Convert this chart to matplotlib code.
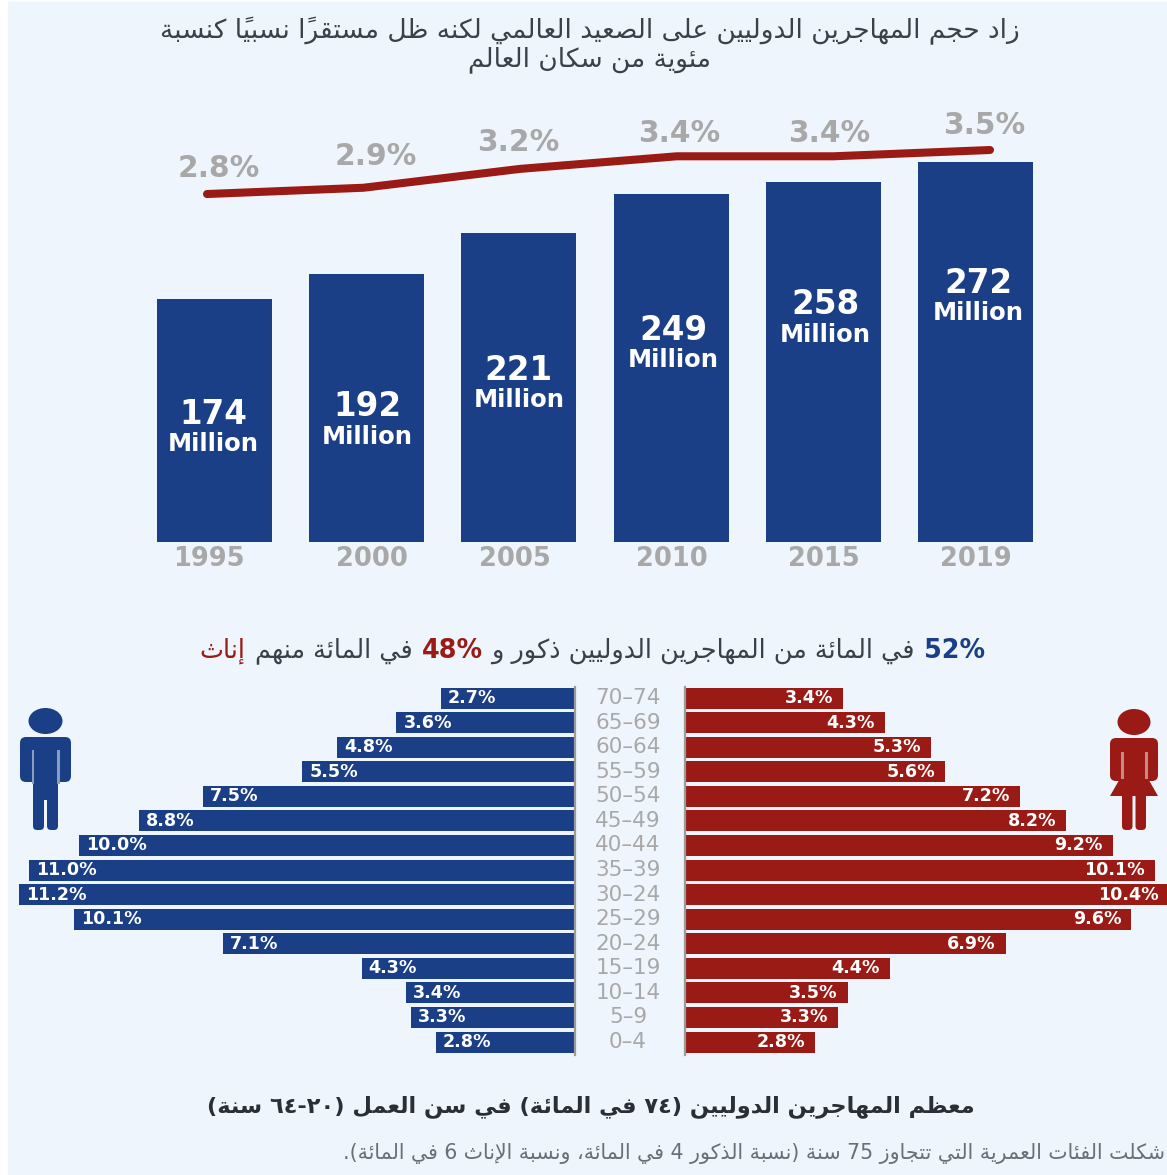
import re
import matplotlib
matplotlib.use("Agg")
from matplotlib import pyplot as plt
from matplotlib.patches import Ellipse, FancyBboxPatch, Polygon, Rectangle
from matplotlib.transforms import ScaledTranslation

W, H = 1167, 1175
BG = "#EEF5FD"
BLUE = "#1B3F87"
RED = "#9A1B15"
GRAY = "#A8A8A8"
DARK = "#3C404A"

years = ["1995", "2000", "2005", "2010", "2015", "2019"]
migrants = [174, 192, 221, 249, 258, 272]
shares = [2.8, 2.9, 3.2, 3.4, 3.4, 3.5]

ages = ["0–4", "5–9", "10–14", "15–19", "20–24", "25–29", "30–24", "35–39",
        "40–44", "45–49", "50–54", "55–59", "60–64", "65–69", "70–74"]
male = [2.8, 3.3, 3.4, 4.3, 7.1, 10.1, 11.2, 11.0, 10.0, 8.8, 7.5, 5.5, 4.8, 3.6, 2.7]
female = [2.8, 3.3, 3.5, 4.4, 6.9, 9.6, 10.4, 10.1, 9.2, 8.2, 7.2, 5.6, 5.3, 4.3, 3.4]

title_1 = "زاد حجم المهاجرين الدوليين على الصعيد العالمي لكنه ظل مستقراً نسبياً كنسبة"
title_2 = "مئوية من سكان العالم"
heading = "معظم المهاجرين الدوليين (٧٤ في المائة) في سن العمل (٢٠-٦٤ سنة)"
note = "شكلت الفئات العمرية التي تتجاوز 75 سنة (نسبة الذكور 4 في المائة، ونسبة الإناث 6 في المائة)."

# matplotlib has no arabic shaping, so map letters to presentation forms by hand
FORMS = {}
code = 0xFE80
for letters, n in [("ء", 1), ("آأؤإ", 2), ("ئ", 4), ("ا", 2), ("ب", 4), ("ة", 2),
                   ("تثجحخ", 4), ("دذرز", 2), ("سشصضطظعغفقكلمنه", 4), ("وى", 2), ("ي", 4)]:
    for c in letters:
        FORMS[c] = [chr(code + k) for k in range(n)]
        code += n
LAM_ALEF = {"آ": (0xFEF5, 0xFEF6), "أ": (0xFEF7, 0xFEF8), "إ": (0xFEF9, 0xFEFA), "ا": (0xFEFB, 0xFEFC)}
MARKS = "\u064B"


def shape(text):
    chars = [c for c in text]
    out = []
    i = 0
    prev_joins = False
    while i < len(chars):
        c = chars[i]
        if c not in FORMS:
            # a mark has to be drawn after its letter, and the string gets reversed later
            if c in MARKS and out:
                out.insert(len(out) - 1, c)
            else:
                out.append(c)
                prev_joins = False
            i += 1
            continue
        if c == "ل" and i + 1 < len(chars) and chars[i + 1] in LAM_ALEF:
            out.append(chr(LAM_ALEF[chars[i + 1]][1 if prev_joins else 0]))
            prev_joins = False
            i += 2
            continue
        j = i + 1
        while j < len(chars) and chars[j] in MARKS:
            j += 1
        next_joins = j < len(chars) and chars[j] in FORMS
        forms = FORMS[c]
        if len(forms) == 1:
            out.append(forms[0])
            prev_joins = False
        elif len(forms) == 2:
            out.append(forms[1] if prev_joins else forms[0])
            prev_joins = False
        else:
            if prev_joins and next_joins:
                out.append(forms[3])
            elif prev_joins:
                out.append(forms[1])
            elif next_joins:
                out.append(forms[2])
            else:
                out.append(forms[0])
            prev_joins = next_joins
        i += 1
    return "".join(out)


def ar(text):
    parts = re.findall(r"[0-9٠-٩]+%?|.", shape(text))
    swap = {"(": ")", ")": "("}
    return "".join(swap.get(p, p) for p in parts[::-1])


def px_axes(x0, y0, x1, y1):
    a = fig.add_axes([x0 / W, 1 - y1 / H, (x1 - x0) / W, (y1 - y0) / H])
    a.patch.set_visible(False)
    return a


fig = plt.figure(figsize=(W / 100, H / 100), dpi=100, facecolor="white")
fig.add_artist(Rectangle((8 / W, 0), 1, 1 - 2 / H, transform=fig.transFigure, color=BG, zorder=-10))

# overlay in image pixels for the texts and the two icons
over = px_axes(0, 0, W, H)
over.set_xlim(0, W)
over.set_ylim(H, 0)
over.axis("off")

over.text(590, 31, ar(title_1), ha="center", va="center", fontsize=19, color=DARK)
over.text(590, 60, ar(title_2), ha="center", va="center", fontsize=19, color=DARK)
over.text(591, 1107, ar(heading), ha="center", va="center", fontsize=16.2, color="#2B2E36", fontweight="bold")
over.text(1165, 1154, ar(note), ha="right", va="center", fontsize=14.8, color="#6A6E78")

# subtitle has coloured pieces, set them one after another from the right
pieces = [("52%", BLUE, "bold"), ("في المائة من المهاجرين الدوليين ذكور و", DARK, "normal"),
          ("48%", RED, "bold"), ("في المائة منهم", DARK, "normal"), ("إناث", RED, "normal")]
renderer = fig.canvas.get_renderer()
x_right = 985
for txt, col, wt in pieces:
    t = over.text(x_right, 651, ar(txt), ha="right", va="center", fontsize=18.4, color=col, fontweight=wt)
    x_right -= t.get_window_extent(renderer).width + 9

# top bars
px_per_m = 1.396
bar_ax = px_axes(157, 120, 1033, 542)
bar_ax.bar(range(len(years)), migrants, width=115 / 152.2, color=BLUE)
bar_ax.set_xlim(-57.5 / 152.2, 5 + 57.5 / 152.2)
bar_ax.set_ylim(0, 422 / px_per_m)
bar_ax.set_xticks(range(len(years)))
bar_ax.set_xticklabels(years, fontsize=18.5, color=GRAY, fontweight="bold")
bar_ax.tick_params(axis="x", length=0, pad=3)
bar_ax.set_yticks([])
for s in bar_ax.spines.values():
    s.set_visible(False)

# the year labels are not quite centred under their bars in the original
year_dx = [-6, 5, -4, 1, 1, 0]
for lab, dx in zip(bar_ax.get_xticklabels(), year_dx):
    lab.set_transform(lab.get_transform() + ScaledTranslation(dx / 100, 0, fig.dpi_scale_trans))

label_drop = [115, 133, 137, 136, 123, 121]
label_dx = [-1, 1, 0, 2, 2, 3]
for i, v in enumerate(migrants):
    bar_ax.annotate(str(v), (i, v), xytext=(label_dx[i], -label_drop[i]), textcoords="offset pixels",
                    ha="center", va="center", color="white", fontsize=23.5, fontweight="bold")
    bar_ax.annotate("Million", (i, v), xytext=(label_dx[i], -label_drop[i] - 30), textcoords="offset pixels",
                    ha="center", va="center", color="white", fontsize=17.5, fontweight="bold")

# share line on top of the bars
px_per_pct = 62.9
line_ax = px_axes(207, 100, 990, 200)
line_ax.plot(range(len(shares)), shares, color=RED, lw=5.8, solid_capstyle="round", solid_joinstyle="round", clip_on=False)
line_ax.set_xlim(0, 5)
line_ax.set_ylim(3.5 - 50 / px_per_pct, 3.5 + 50 / px_per_pct)
line_ax.axis("off")
share_dx = [12, 12, -2, 2, -4, -6]
share_dy = [26, 31, 26, 23, 23, 25]
for i, v in enumerate(shares):
    line_ax.annotate("%.1f%%" % v, (i, v), xytext=(share_dx[i], share_dy[i]), textcoords="offset pixels",
                     ha="center", va="center", color=GRAY, fontsize=21.3, fontweight="bold")

# pyramid
row = (1042 - 698) / 14
y_lim = (-13 / row, 14 + 11 / row)
left = px_axes(8, 687, 575, 1055)
right = px_axes(685, 687, W, 1055)
left.barh(range(len(ages)), male, height=21 / row, color=BLUE)
right.barh(range(len(ages)), female, height=21 / row, color=RED)
left.set_xlim(567 / 49.6, 0)
right.set_xlim(0, 482 / 46.5)
for a in (left, right):
    a.set_ylim(*y_lim)
    a.set_xticks([])
    a.set_yticks([])
    for s in a.spines.values():
        s.set_visible(False)
left.spines["right"].set_visible(True)
left.spines["right"].set_color("#9A9A9A")
left.spines["right"].set_linewidth(1.6)
right.spines["left"].set_visible(True)
right.spines["left"].set_color("#9A9A9A")
right.spines["left"].set_linewidth(1.6)

for i in range(len(ages)):
    left.annotate("%.1f%%" % male[i], (male[i], i), xytext=(7, 0), textcoords="offset pixels",
                  ha="left", va="center", color="white", fontsize=12.6, fontweight="bold", annotation_clip=False)
    right.annotate("%.1f%%" % female[i], (female[i], i), xytext=(-10, 0), textcoords="offset pixels",
                   ha="right", va="center", color="white", fontsize=12.6, fontweight="bold", annotation_clip=False)
    over.text(628, 1042 - i * row, ages[i], ha="center", va="center", fontsize=15.5, color=GRAY)


def rounded(x0, y0, x1, y1, col, pad=6):
    over.add_patch(FancyBboxPatch((x0 + pad, y0 + pad), x1 - x0 - 2 * pad, y1 - y0 - 2 * pad,
                                  boxstyle="round,pad=%d" % pad, color=col, lw=0))


# man
over.add_patch(Ellipse((45.5, 721), 34, 26, color=BLUE, lw=0))
rounded(20, 737, 71, 782, BLUE)
rounded(33, 745, 58, 800, BLUE, pad=2)
rounded(33, 780, 44, 830, BLUE, pad=4)
rounded(47, 780, 58, 830, BLUE, pad=4)
over.add_patch(Rectangle((31.5, 750), 2.5, 34, color="#8A9CC0", lw=0))
over.add_patch(Rectangle((57, 750), 2.5, 34, color="#8A9CC0", lw=0))

# woman
over.add_patch(Ellipse((1134, 722), 33, 26, color=RED, lw=0))
rounded(1110, 738, 1158, 781, RED)
over.add_patch(Polygon([(1134 - 12, 775), (1134 + 12, 775), (1158, 796), (1110, 796)], color=RED, lw=0))
rounded(1122, 790, 1132.5, 830, RED, pad=4)
rounded(1135.5, 790, 1146, 830, RED, pad=4)
over.add_patch(Rectangle((1121, 752), 2.5, 27, color="#C88A86", lw=0))
over.add_patch(Rectangle((1145, 752), 2.5, 27, color="#C88A86", lw=0))

fig.savefig("out.png", dpi=100)
